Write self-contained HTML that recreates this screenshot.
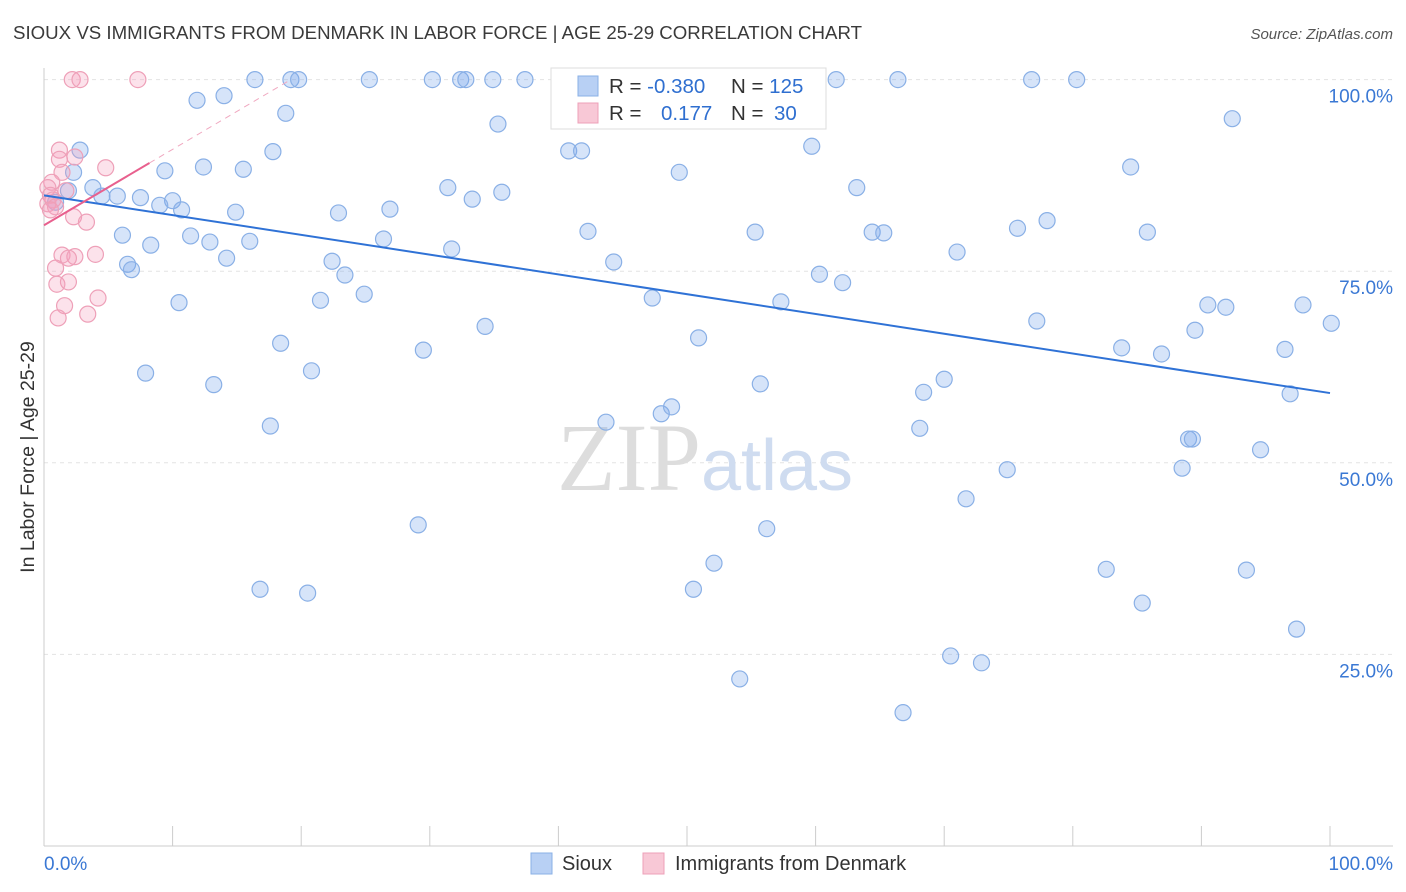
<!DOCTYPE html>
<html><head><meta charset="utf-8"><style>
body{margin:0;background:#fff;font-family:"Liberation Sans",sans-serif}
svg{display:block}
</style></head><body>
<svg id="chart" width="1406" height="892" xmlns="http://www.w3.org/2000/svg" font-family="Liberation Sans, sans-serif">
<text x="13" y="39" font-size="18.6" fill="#3a3a3a" textLength="849" lengthAdjust="spacingAndGlyphs">SIOUX VS IMMIGRANTS FROM DENMARK IN LABOR FORCE | AGE 25-29 CORRELATION CHART</text>
<text x="1393" y="39" font-size="15" fill="#555" font-style="italic" text-anchor="end">Source: ZipAtlas.com</text>
<g id="grid"></g>
<g id="axes"></g>
<text x="705" y="490" font-size="96" text-anchor="middle" fill="#ddd" font-family="Liberation Serif, serif">ZIP<tspan fill="#cfdcf0" font-family="Liberation Sans, sans-serif" font-size="72">atlas</tspan></text>
<g id="pts"></g>
<g id="trends"></g>
<text transform="translate(34,457) rotate(-90)" font-size="19.5" fill="#333" text-anchor="middle">In Labor Force | Age 25-29</text>
<g>
<rect x="551" y="68" width="275" height="61" fill="#fff" stroke="#ddd"/>
<rect x="578" y="76" width="20" height="20" fill="#b8d0f4" stroke="#8ab0e6"/>
<rect x="578" y="103" width="20" height="20" fill="#f8c8d6" stroke="#eea0b8"/>
<text x="609" y="93" font-size="20.5" fill="#333">R = <tspan fill="#2f6fd0">-0.380</tspan></text>
<text x="731" y="93" font-size="20.5" fill="#333">N = <tspan fill="#2f6fd0">125</tspan></text>
<text x="609" y="120" font-size="20.5" fill="#333">R = </text>
<text x="661" y="120" font-size="20.5" fill="#2f6fd0">0.177</text>
<text x="731" y="120" font-size="20.5" fill="#333">N = </text>
<text x="774" y="120" font-size="20.5" fill="#2f6fd0">30</text>
</g>
<g>
<rect x="531" y="853" width="21" height="21" fill="#b8d0f4" stroke="#8ab0e6"/>
<text x="562" y="870" font-size="20" fill="#333">Sioux</text>
<rect x="643" y="853" width="21" height="21" fill="#f8c8d6" stroke="#eea0b8"/>
<text x="675" y="870" font-size="20" fill="#333">Immigrants from Denmark</text>
</g>
</svg>
<script>
const blueX=[16.4,19.2,19.8,25.3,30.2,32.4,32.8,34.9,37.4,54.1,61.6,66.4,76.8,80.3,11.9,14.0,18.8,35.3,92.4,2.8,17.8,40.8,41.8,59.7,2.3,9.4,12.4,15.5,49.4,84.5,3.8,1.9,4.5,5.7,7.5,10.0,9.0,10.7,0.9,14.9,22.9,26.9,31.4,33.3,35.6,63.2,6.1,8.3,11.4,12.9,16.0,26.4,31.7,42.3,55.3,64.4,65.3,71.0,75.7,78.0,85.8,6.5,6.8,14.2,22.4,23.4,44.3,60.3,62.1,10.5,21.5,24.9,47.3,57.3,34.3,50.9,18.4,77.2,90.5,91.9,97.9,100.1,89.5,29.5,83.8,86.9,96.5,7.9,20.8,13.2,55.7,70.0,68.4,96.9,17.6,43.7,48.0,48.8,68.1,89.0,89.3,94.6,74.9,88.5,71.7,29.1,56.2,52.1,82.6,93.5,16.8,20.5,50.5,85.4,97.4,70.5,72.9,54.1,66.8];
const blueY=[100,100,100,100,100,100,100,100,100,100,100,100,100,100,97.3,97.9,95.6,94.2,94.9,90.8,90.6,90.7,90.7,91.3,87.9,88.1,88.6,88.3,87.9,88.6,85.9,85.5,84.8,84.8,84.6,84.2,83.6,83.0,84.0,82.7,82.6,83.1,85.9,84.4,85.3,85.9,79.7,78.4,79.6,78.8,78.9,79.2,77.9,80.2,80.1,80.1,80.0,77.5,80.6,81.6,80.1,75.9,75.2,76.7,76.3,74.5,76.2,74.6,73.5,70.9,71.2,72.0,71.5,71.0,67.8,66.3,65.6,68.5,70.6,70.3,70.6,68.2,67.3,64.7,65.0,64.2,64.8,61.7,62.0,60.2,60.3,60.9,59.2,59.0,54.8,55.3,56.4,57.3,54.5,53.1,53.1,51.7,49.1,49.3,45.3,41.9,41.4,36.9,36.1,36.0,33.5,33.0,33.5,31.7,28.3,24.8,23.9,21.8,17.4];
const pinkX=[2.2,2.8,7.3,1.2,1.2,2.4,4.8,1.4,0.6,0.3,1.7,0.5,0.7,0.3,0.9,0.5,2.3,3.3,1.4,2.4,4.0,1.9,0.9,1.0,1.9,4.2,1.6,3.4,1.1];
const pinkY=[100,100,100,90.8,89.6,89.9,88.5,87.9,86.6,85.9,85.5,84.9,84.3,83.8,83.4,83.0,82.1,81.4,77.1,76.9,77.2,76.7,75.4,73.3,73.6,71.5,70.5,69.4,68.9];
const blueTrend=[84.9,59.1]; // y at x=0 and x=100
const pinkTrend=[81.0,0.99]; // intercept, slope
const yTicks=[25,50,75,100];
const yTickLabels=["25.0%","50.0%","75.0%","100.0%"];
const xTicks=[0,10,20,30,40,50,60,70,80,90,100];

const NS="http://www.w3.org/2000/svg";
const X=v=>44+v*12.86, Y=v=>846-v*7.664;
function mk(tag,attrs,parent){const e=document.createElementNS(NS,tag);for(const k in attrs)e.setAttribute(k,attrs[k]);parent.appendChild(e);return e;}
const grid=document.getElementById('grid'),axes=document.getElementById('axes'),pts=document.getElementById('pts'),tr=document.getElementById('trends');
yTicks.forEach((t,i)=>{
  const l=mk('line',{x1:44,x2:1393,y1:Y(t),y2:Y(t),stroke:'#e3e3e3','stroke-dasharray':'4,4'},grid);
  
  
  const tx=mk('text',{x:1393,y:Y(t)+23,'font-size':19,fill:'#3a78d4','text-anchor':'end'},axes);
  tx.textContent=yTickLabels[i];
  
  
});
mk('line',{x1:44,x2:44,y1:68,y2:846,stroke:'#ccc'},axes);
mk('line',{x1:44,x2:1393,y1:846,y2:846,stroke:'#ccc'},axes);
xTicks.forEach(t=>{const l=mk('line',{x1:X(t),x2:X(t),y1:826,y2:846,stroke:'#ccc'},axes);
  
  });
const x0=mk('text',{x:44,y:870,'font-size':19,fill:'#3a78d4'},axes);x0.textContent='0.0%';


const x1=mk('text',{x:1393,y:870,'font-size':19,fill:'#3a78d4','text-anchor':'end'},axes);x1.textContent='100.0%';


blueX.forEach((v,i)=>{const c=mk('circle',{cx:X(v),cy:Y(blueY[i]),r:8,fill:'rgba(120,165,235,0.3)',stroke:'#8ab0e6','stroke-width':1.2},pts);
  
  });
pinkX.forEach((v,i)=>{const c=mk('circle',{cx:X(v),cy:Y(pinkY[i]),r:8,fill:'rgba(245,160,190,0.3)',stroke:'#eea0b8','stroke-width':1.2},pts);
  
  });
const bl=mk('line',{x1:X(0),y1:Y(blueTrend[0]),x2:X(100),y2:Y(blueTrend[1]),stroke:'#2f72d6','stroke-width':2},tr);


const pxEnd=(100-pinkTrend[0])/pinkTrend[1];
const pd=mk('line',{x1:X(8.2),y1:Y(pinkTrend[0]+pinkTrend[1]*8.2),x2:X(pxEnd),y2:Y(100),stroke:'#f0a8c0','stroke-width':1,'stroke-dasharray':'6,5'},tr);


const pl=mk('line',{x1:X(0),y1:Y(pinkTrend[0]),x2:X(8.2),y2:Y(pinkTrend[0]+pinkTrend[1]*8.2),stroke:'#e8608e','stroke-width':2},tr);


</script>
</body></html>
